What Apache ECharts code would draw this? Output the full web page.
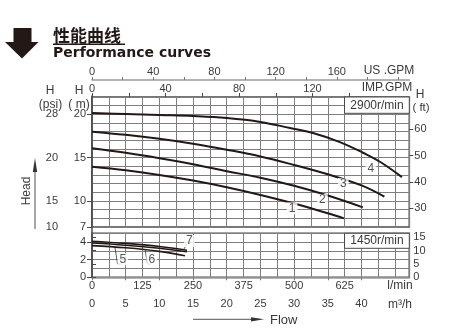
<!DOCTYPE html>
<html>
<head>
<meta charset="utf-8">
<script src="https://cdn.jsdelivr.net/npm/echarts@6/dist/echarts.min.js"></script>
<style>
html,body{margin:0;padding:0;background:#fff;}
#c{width:457px;height:329px;}
</style>
</head>
<body>
<div id="c"></div>
<script>
// ---- data (flow in m3/h, head in m) ----
const curve1 = [[0,13.96],[5,13.55],[10,13.01],[15,12.36],[20,11.59],[25,10.70],[30,9.71],[35,8.58],[37.4,8.0]];
const curve2 = [[0,16.08],[5,15.56],[10,14.94],[15,14.24],[20,13.44],[25,12.69],[30,11.75],[35,10.63],[40.2,9.27]];
const curve3 = [[0,18.0],[5,17.64],[10,17.18],[15,16.61],[20,15.92],[25,15.14],[30,14.16],[35,13.08],[40,11.8],[43.4,10.5]];
const curve4 = [[0,20.16],[5,20.04],[10,19.92],[15,19.80],[20,19.57],[25,19.12],[29.4,18.42],[32.8,17.84],[36.8,16.8],[40.3,15.54],[42.8,14.5],[46,12.76]];
const curve5 = [[0,3.6],[5,3.35],[10,2.95],[13.8,2.45]];
const curve6 = [[0,3.9],[5,3.65],[10,3.3],[14.1,2.9]];
const curve7 = [[0,4.1],[5,3.85],[10,3.5],[14.1,3.08]];

const curveNames = ['1','2','3','4','5','6','7'];

const mTicksUpper = [7,10,15,20];
const psiTickLabels = ['10','15','20','28'];
const ftTicksUpper = [30,40,50,60];
const mTicksLower = [0,2,4];
const ftTicksLower = [0,5,10,15];
const usGpmLabels = [0,40,80,120,160];
const usGpmTicks = [0,20,40,60,80,100,120,140,160,180,200];
const impGpmLabels = [0,40,80,120];
const impGpmTicks = [0,20,40,60,80,100,120,140];
const lpmLabels = [0,125,250,375,500,625];
const m3hLabels = [0,5,10,15,20,25,30,35,40];

// unit conversions
const Q_MAX = 47.1;            // m3/h at right edge
const US_GPM = 0.227125;       // m3/h per US gpm
const IMP_GPM = 0.272765;      // m3/h per imp gpm
const LPM = 0.06;              // m3/h per l/min
const FT = 3.28084;            // ft per m

const FONT = 'Liberation Sans, Arial, sans-serif';
const TXT = '#3a3a3a';
const GRIDC = '#7e7e7e';
const BORDER = '#4a4a4a';
const CURVE = '#231815';

const lbl = (extra) => Object.assign({fontFamily: FONT, fontSize: 11, color: TXT}, extra || {});
const hiddenAxis = (grid, min, max, interval) => ({
  type: 'value', gridIndex: grid, min: min, max: max, interval: interval,
  axisLine: {show: false}, axisTick: {show: false}, axisLabel: {show: false},
  splitLine: {show: true, lineStyle: {color: GRIDC, width: 1}}
});

const chart = echarts.init(document.getElementById('c'), null, {renderer: 'canvas'});

const option = {
  animation: false,
  backgroundColor: '#fff',
  grid: [
    {left: 92, top: 97, width: 317.3, height: 130, show: true, borderColor: BORDER, borderWidth: 1.6, backgroundColor: 'transparent', containLabel: false, outerBoundsMode: 'none'},
    {left: 92, top: 233.3, width: 317.3, height: 44, show: true, borderColor: BORDER, borderWidth: 1.6, backgroundColor: 'transparent', containLabel: false, outerBoundsMode: 'none'},
    {left: 92, top: 96, width: 317.3, height: 181.3, show: false, containLabel: false, outerBoundsMode: 'none'}
  ],
  xAxis: [
    Object.assign(hiddenAxis(0, 0, Q_MAX, 2.5), {position: 'bottom'}),
    {
      type: 'value', gridIndex: 0, position: 'top', offset: 0, min: 0, max: Q_MAX / IMP_GPM,
      axisLine: {show: false},
      axisTick: {show: true, length: 4, customValues: impGpmTicks, lineStyle: {color: BORDER, width: 1}},
      axisLabel: lbl({margin: 3, customValues: impGpmLabels}),
      splitLine: {show: false}
    },
    {
      type: 'value', gridIndex: 0, position: 'top', offset: 17, min: 0, max: Q_MAX / US_GPM,
      axisLine: {show: true, lineStyle: {color: '#9a9a9a', width: 1.5}},
      axisTick: {show: true, length: 3, customValues: usGpmTicks, lineStyle: {color: '#777', width: 1}},
      axisLabel: lbl({margin: 3, customValues: usGpmLabels}),
      splitLine: {show: false}
    },
    Object.assign(hiddenAxis(1, 0, Q_MAX, 2.5), {position: 'top'}),
    {
      type: 'value', gridIndex: 1, position: 'bottom', offset: 0, min: 0, max: Q_MAX / LPM,
      axisLine: {show: false}, axisTick: {show: false},
      axisLabel: lbl({margin: 3, customValues: lpmLabels}),
      splitLine: {show: false}
    },
    {
      type: 'value', gridIndex: 1, position: 'bottom', offset: 17, min: 0, max: Q_MAX,
      axisLine: {show: true, lineStyle: {color: '#9a9a9a', width: 1.5}},
      axisTick: {show: true, length: 3, customValues: m3hLabels, lineStyle: {color: '#777', width: 1}},
      axisLabel: lbl({margin: 4, customValues: m3hLabels}),
      splitLine: {show: false}
    },
    {type: 'value', gridIndex: 2, show: false, min: 0, max: 1}
  ],
  yAxis: [
    Object.assign(hiddenAxis(0, 7, 22, 1), {position: 'left'}),
    {
      type: 'value', gridIndex: 0, position: 'left', offset: 0, min: 7, max: 22,
      axisLine: {show: false},
      axisTick: {show: true, length: 5, customValues: mTicksUpper, lineStyle: {color: BORDER, width: 1}},
      axisLabel: lbl({margin: 6, customValues: mTicksUpper}),
      splitLine: {show: false}
    },
    {
      type: 'value', gridIndex: 0, position: 'left', offset: 28, min: 7, max: 22,
      axisLine: {show: false},
      axisTick: {show: true, length: 4, customValues: mTicksUpper, lineStyle: {color: BORDER, width: 1}},
      axisLabel: lbl({margin: 6, customValues: mTicksUpper,
        formatter: (v) => { const i = mTicksUpper.indexOf(Math.round(v)); return i >= 0 ? psiTickLabels[i] : ''; }}),
      splitLine: {show: false}
    },
    {
      type: 'value', gridIndex: 0, position: 'right', offset: 0, min: 7 * FT, max: 22 * FT,
      axisLine: {show: false},
      axisTick: {show: true, length: 4, customValues: ftTicksUpper, lineStyle: {color: BORDER, width: 1}},
      axisLabel: lbl({margin: 5, customValues: ftTicksUpper}),
      splitLine: {show: false}
    },
    Object.assign(hiddenAxis(1, 0, 5, 1), {position: 'left'}),
    {
      type: 'value', gridIndex: 1, position: 'left', offset: 0, min: 0, max: 5,
      axisLine: {show: false},
      axisTick: {show: true, length: 5, customValues: mTicksLower, lineStyle: {color: BORDER, width: 1}},
      axisLabel: lbl({margin: 6, customValues: mTicksLower}),
      splitLine: {show: false}
    },
    {
      type: 'value', gridIndex: 1, position: 'right', offset: 0, min: 0, max: 5 * FT,
      axisLine: {show: false},
      axisTick: {show: true, length: 4, customValues: ftTicksLower, lineStyle: {color: BORDER, width: 1}},
      axisLabel: lbl({margin: 4, customValues: ftTicksLower}),
      splitLine: {show: false}
    },
    {
      type: 'value', gridIndex: 2, position: 'left', offset: 28, min: 0, max: 1,
      axisLine: {show: true, lineStyle: {color: BORDER, width: 1.5}},
      axisTick: {show: false}, axisLabel: {show: false}, splitLine: {show: false}
    }
  ],
  series: [].concat(
    [curve1, curve2, curve3, curve4].map((d, i) => ({
      type: 'line', name: curveNames[i], xAxisIndex: 0, yAxisIndex: 0, data: d,
      smooth: 0.4, showSymbol: false, silent: true, z: 3,
      lineStyle: {color: CURVE, width: 2}
    })),
    [curve5, curve6, curve7].map((d, i) => ({
      type: 'line', name: curveNames[i + 4], xAxisIndex: 3, yAxisIndex: 4, data: d,
      smooth: 0.4, showSymbol: false, silent: true, z: 3,
      lineStyle: {color: CURVE, width: 1.6}
    })),
    // leader lines for lower curve labels
    [
      [[3.42,3.33],[3.79,1.51],[4.31,1.51]],
      [[7.87,3.22],[8.24,1.51],[8.76,1.51]],
      [[13.66,3.22],[14.1,3.86]]
    ].map(d => ({
      type: 'line', xAxisIndex: 3, yAxisIndex: 4, data: d, showSymbol: false, silent: true, z: 3,
      lineStyle: {color: '#333', width: 0.8}
    })),
    [{
      type: 'scatter', xAxisIndex: 0, yAxisIndex: 0, silent: true, z: 5, symbolSize: 2,
      itemStyle: {color: 'transparent'},
      data: [
        {name: curveNames[0], value: [29.7, 9.16]},
        {name: curveNames[1], value: [34.2, 10.12]},
        {name: curveNames[2], value: [37.3, 11.96]},
        {name: curveNames[3], value: [41.4, 13.77]}
      ],
      label: {show: true, position: 'inside', formatter: '{b}', fontFamily: FONT, fontSize: 12, color: '#2a2a2a',
        backgroundColor: '#fff', padding: [0, 2]}
    }, {
      type: 'scatter', xAxisIndex: 3, yAxisIndex: 4, silent: true, z: 5, symbolSize: 2,
      itemStyle: {color: 'transparent'},
      data: [
        {name: curveNames[4], value: [4.58, 2.05]},
        {name: curveNames[5], value: [8.87, 2.05]},
        {name: curveNames[6], value: [14.45, 4.12]}
      ],
      label: {show: true, position: 'inside', formatter: '{b}', fontFamily: FONT, fontSize: 12, color: '#2a2a2a',
        backgroundColor: '#fff', padding: [0, 2]}
    }]
  ),
  graphic: [
    // title arrow
    {type: 'polygon', z: 10, shape: {points: [[13.5,28],[31.5,28],[31.5,42],[38.5,42],[22,58.5],[5,42],[13.5,42]]}, style: {fill: '#231815'}},
    {type: 'text', z: 10, x: 53, y: 36, style: {text: '性能曲线', fontFamily: 'Noto Sans CJK SC', fontWeight: 'bold', fontSize: 17, fill: '#231815', textAlign: 'left', textVerticalAlign: 'middle'}},
    {type: 'line', z: 10, shape: {x1: 53, y1: 44.3, x2: 125, y2: 44.3}, style: {stroke: '#231815', lineWidth: 1.5}},
    {type: 'text', z: 10, x: 53, y: 53.5, style: {text: 'Performance curves', fontFamily: 'DejaVu Sans', fontWeight: 'bold', fontSize: 14, fill: '#231815', textAlign: 'left', textVerticalAlign: 'middle'}},
    // axis unit texts
    {type: 'text', z: 10, x: 389, y: 71, style: {text: 'US .GPM', fontFamily: FONT, fontSize: 12, fill: TXT, textAlign: 'center', textVerticalAlign: 'middle'}},
    {type: 'text', z: 10, x: 387, y: 88, style: {text: 'IMP.GPM', fontFamily: FONT, fontSize: 12, fill: TXT, textAlign: 'center', textVerticalAlign: 'middle'}},
    {type: 'text', z: 10, x: 50, y: 91, style: {text: 'H', fontFamily: FONT, fontSize: 12, fill: TXT, textAlign: 'center', textVerticalAlign: 'middle'}},
    {type: 'text', z: 10, x: 50.5, y: 105, style: {text: '(psi)', fontFamily: FONT, fontSize: 12, fill: TXT, textAlign: 'center', textVerticalAlign: 'middle'}},
    {type: 'text', z: 10, x: 79, y: 91, style: {text: 'H', fontFamily: FONT, fontSize: 12, fill: TXT, textAlign: 'center', textVerticalAlign: 'middle'}},
    {type: 'text', z: 10, x: 79, y: 105, style: {text: '( m)', fontFamily: FONT, fontSize: 12, fill: TXT, textAlign: 'center', textVerticalAlign: 'middle'}},
    {type: 'text', z: 10, x: 420, y: 95, style: {text: 'H', fontFamily: FONT, fontSize: 12, fill: TXT, textAlign: 'center', textVerticalAlign: 'middle'}},
    {type: 'text', z: 10, x: 421, y: 108, style: {text: '( ft)', fontFamily: FONT, fontSize: 11.5, fill: TXT, textAlign: 'center', textVerticalAlign: 'middle'}},
    {type: 'text', z: 10, x: 400, y: 286, style: {text: 'l/min', fontFamily: FONT, fontSize: 12, fill: TXT, textAlign: 'center', textVerticalAlign: 'middle'}},
    {type: 'text', z: 10, x: 400, y: 305, style: {text: 'm³/h', fontFamily: FONT, fontSize: 12, fill: TXT, textAlign: 'center', textVerticalAlign: 'middle'}},
    // speed boxes
    {type: 'rect', z: 10, shape: {x: 344.5, y: 97, width: 64.8, height: 16.3}, style: {fill: '#fff', stroke: BORDER, lineWidth: 1}},
    {type: 'text', z: 11, x: 377, y: 105.5, style: {text: '2900r/min', fontFamily: FONT, fontSize: 12, fill: TXT, textAlign: 'center', textVerticalAlign: 'middle'}},
    {type: 'rect', z: 10, shape: {x: 344.5, y: 233.3, width: 64.8, height: 15}, style: {fill: '#fff', stroke: BORDER, lineWidth: 1}},
    {type: 'text', z: 11, x: 377, y: 241, style: {text: '1450r/min', fontFamily: FONT, fontSize: 12, fill: TXT, textAlign: 'center', textVerticalAlign: 'middle'}},
    // Head arrow
    {type: 'line', z: 10, shape: {x1: 35, y1: 229, x2: 35, y2: 168}, style: {stroke: '#777', lineWidth: 1.3}},
    {type: 'polygon', z: 10, shape: {points: [[32.8,172],[35,158],[37.2,172]]}, style: {fill: '#333'}},
    {type: 'text', z: 10, x: 26.5, y: 191, rotation: Math.PI / 2, style: {text: 'Head', fontFamily: FONT, fontSize: 12, fill: TXT, textAlign: 'center', textVerticalAlign: 'middle'}},
    // Flow arrow
    {type: 'line', z: 10, shape: {x1: 193, y1: 319.3, x2: 253, y2: 319.3}, style: {stroke: '#777', lineWidth: 1.3}},
    {type: 'polygon', z: 10, shape: {points: [[251,317.2],[264,319.3],[251,321.4]]}, style: {fill: '#333'}},
    {type: 'text', z: 10, x: 270, y: 320, style: {text: 'Flow', fontFamily: FONT, fontSize: 13, fill: TXT, textAlign: 'left', textVerticalAlign: 'middle'}}
  ]
};
chart.setOption(option);
</script>
</body>
</html>
